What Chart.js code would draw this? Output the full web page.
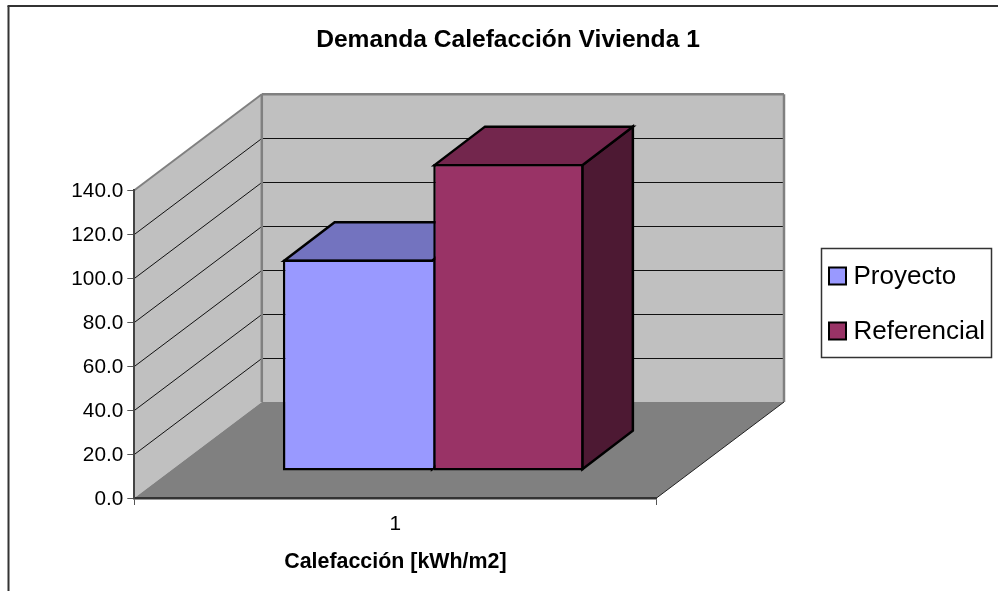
<!DOCTYPE html>
<html>
<head>
<meta charset="utf-8">
<script src="https://cdn.jsdelivr.net/npm/chart.js@4"></script>
<style>
  html, body { margin: 0; padding: 0; background: #fff; overflow: hidden; }
  canvas { display: block; }
</style>
</head>
<body>
<canvas id="chart" width="998" height="591"></canvas>
<script>
const categories = ["1"];
const seriesNames = ["Proyecto", "Referencial"];
const proyecto = [96.2];
const referencial = [139.7];
const yTicks = [0, 20, 40, 60, 80, 100, 120, 140];

const titleText = "Demanda Calefacción Vivienda 1";
const xTitleText = "Calefacción [kWh/m2]";

const FONT = "'Liberation Sans', Arial, sans-serif";
const frontColors = ["#9999ff", "#993366"];
const topColors = ["#7373bf", "#73264d"];
const sideColors = ["#4d4d80", "#4d1933"];

// 3D look: wall depth and where the bars stand on the floor
const wallDepth = { x: 127.5, y: -96 };
const barShift = { x: 37.85, y: -27 };
const barDepth = { x: 50.5, y: -38.5 };
const barLine = 2.5;

function poly(ctx, pts, fill, stroke, lw) {
  ctx.beginPath();
  pts.forEach((p, i) => (i ? ctx.lineTo(p[0], p[1]) : ctx.moveTo(p[0], p[1])));
  ctx.closePath();
  if (fill) {
    ctx.fillStyle = fill;
    ctx.fill();
  }
  if (stroke) {
    ctx.strokeStyle = stroke;
    ctx.lineWidth = lw;
    ctx.lineJoin = "miter";
    ctx.stroke();
  }
}

function line(ctx, x1, y1, x2, y2, color, lw) {
  ctx.beginPath();
  ctx.moveTo(x1, y1);
  ctx.lineTo(x2, y2);
  ctx.strokeStyle = color;
  ctx.lineWidth = lw;
  ctx.stroke();
}

const box3d = {
  id: "box3d",
  afterLayout(chart) {
    // Excel centres the title on the whole chart object, not the plot
    chart.titleBlock.left = 18;
    chart.titleBlock.right = 998;
  },
  beforeDraw(chart) {
    const { ctx, chartArea: a, scales } = chart;
    const dx = wallDepth.x;
    const dy = wallDepth.y;
    ctx.save();

    // outer frame, cut off by the screenshot on the right and bottom
    line(ctx, 8.5, 591, 8.5, 6, "#333", 2);
    line(ctx, 7.5, 6, 998, 6, "#333", 2);

    // side wall, back wall, floor
    poly(ctx, [[a.left, a.top], [a.left + dx, a.top + dy], [a.left + dx, a.bottom + dy], [a.left, a.bottom]], "#c0c0c0");
    poly(ctx, [[a.left + dx, a.top + dy], [a.right + dx, a.top + dy], [a.right + dx, a.bottom + dy], [a.left + dx, a.bottom + dy]], "#c0c0c0");
    poly(ctx, [[a.left, a.bottom], [a.right, a.bottom], [a.right + dx, a.bottom + dy], [a.left + dx, a.bottom + dy]], "#808080");

    // gridlines along both walls
    yTicks.slice(1, -1).forEach((v) => {
      const y = Math.round(scales.y.getPixelForValue(v)) + 0.5;
      line(ctx, a.left, y, a.left + dx, y + dy, "#111", 1);
      line(ctx, a.left + dx, y + dy, a.right + dx, y + dy, "#111", 1);
    });

    // wall edges
    line(ctx, a.left, a.top, a.left + dx, a.top + dy, "#808080", 2);
    line(ctx, a.left + dx, a.top + dy, a.right + dx, a.top + dy, "#808080", 2.5);
    line(ctx, a.left + dx, a.top + dy, a.left + dx, a.bottom + dy, "#808080", 2.5);
    line(ctx, a.right + dx, a.top + dy, a.right + dx, a.bottom + dy, "#808080", 2.5);
    line(ctx, a.right, a.bottom, a.right + dx, a.bottom + dy, "#222", 1);
    ctx.restore();
  },
  beforeDatasetsDraw(chart) {
    // top and side faces first, left bar behind the right one
    const { ctx } = chart;
    const inset = barLine / 2; // chart.js keeps the bar border inside the bar
    [0, 1].forEach((i) => {
      const bar = chart.getDatasetMeta(i).data[0].getProps(["x", "y", "base", "width"], true);
      const l = bar.x - bar.width / 2 + barShift.x + inset;
      const r = bar.x + bar.width / 2 + barShift.x - inset;
      const t = bar.y + barShift.y + inset;
      const b = bar.base + barShift.y - inset;
      const ddx = barDepth.x;
      const ddy = barDepth.y;
      poly(ctx, [[r, t], [r + ddx, t + ddy], [r + ddx, b + ddy], [r, b]], sideColors[i], "#000", barLine);
      poly(ctx, [[l, t], [l + ddx, t + ddy], [r + ddx, t + ddy], [r, t]], topColors[i], "#000", barLine);
    });
  },
  beforeDatasetDraw(chart) {
    // the front face is the real bar, moved onto the floor
    chart.ctx.save();
    chart.ctx.translate(barShift.x, barShift.y);
  },
  afterDatasetDraw(chart) {
    chart.ctx.restore();
  },
  afterDraw(chart) {
    const { ctx } = chart;
    ctx.save();
    ctx.fillStyle = "#fff";
    ctx.fillRect(821.5, 248.5, 170, 109);
    ctx.strokeStyle = "#333";
    ctx.lineWidth = 1.5;
    ctx.strokeRect(821.5, 248.5, 170, 109);
    const rows = [276, 331];
    chart.data.datasets.forEach((ds, i) => {
      ctx.fillStyle = ds.backgroundColor;
      ctx.fillRect(829, rows[i] - 8.5, 17, 17);
      ctx.strokeStyle = "#000";
      ctx.lineWidth = 2;
      ctx.strokeRect(829, rows[i] - 8.5, 17, 17);
      ctx.fillStyle = "#000";
      ctx.font = "26px " + FONT;
      ctx.textBaseline = "middle";
      ctx.fillText(ds.label, 853.5, rows[i] + 1);
    });
    ctx.restore();
  },
};

new Chart(document.getElementById("chart"), {
  type: "bar",
  plugins: [box3d],
  data: {
    labels: categories,
    datasets: [
      {
        label: seriesNames[0],
        data: proyecto,
        backgroundColor: frontColors[0],
        borderColor: "#000",
        // no right border, the next bar's left border is the shared edge
        borderWidth: { top: barLine, left: barLine, bottom: barLine, right: 0 },
        borderSkipped: false,
      },
      {
        label: seriesNames[1],
        data: referencial,
        backgroundColor: frontColors[1],
        borderColor: "#000",
        borderWidth: barLine,
        borderSkipped: false,
      },
    ],
  },
  options: {
    responsive: false,
    animation: false,
    layout: { padding: { left: 0, right: 341.5, top: 0, bottom: 0 } },
    datasets: { bar: { barPercentage: 1, categoryPercentage: 0.5759 } },
    plugins: {
      legend: { display: false },
      tooltip: { enabled: false },
      title: {
        display: true,
        text: titleText,
        color: "#000",
        font: { family: FONT, size: 24.6, weight: "bold" },
        padding: { top: 25, bottom: 135.7 },
      },
    },
    scales: {
      x: {
        afterFit(scale) {
          scale.height = 93;
        },
        grid: { drawOnChartArea: false, drawTicks: true, tickLength: 7, color: "#555", offset: true },
        border: { color: "#333", width: 2.5 },
        ticks: { color: "#000", font: { family: FONT, size: 20.8 }, padding: 7, maxRotation: 0 },
        title: {
          display: true,
          text: xTitleText,
          color: "#000",
          font: { family: FONT, size: 21.4, weight: "bold" },
          padding: { top: 0, bottom: 16 },
        },
      },
      y: {
        min: 0,
        max: 140,
        afterFit(scale) {
          scale.width = 134.3;
        },
        afterBuildTicks(scale) {
          scale.ticks = yTicks.map((v) => ({ value: v }));
        },
        grid: { drawOnChartArea: false, drawTicks: true, tickLength: 7, color: "#555" },
        border: { color: "#444", width: 2 },
        ticks: {
          color: "#000",
          font: { family: FONT, size: 20.8 },
          padding: 4,
          labelOffset: 1.5,
          callback: (v) => v.toFixed(1),
        },
      },
    },
  },
});
</script>
</body>
</html>
